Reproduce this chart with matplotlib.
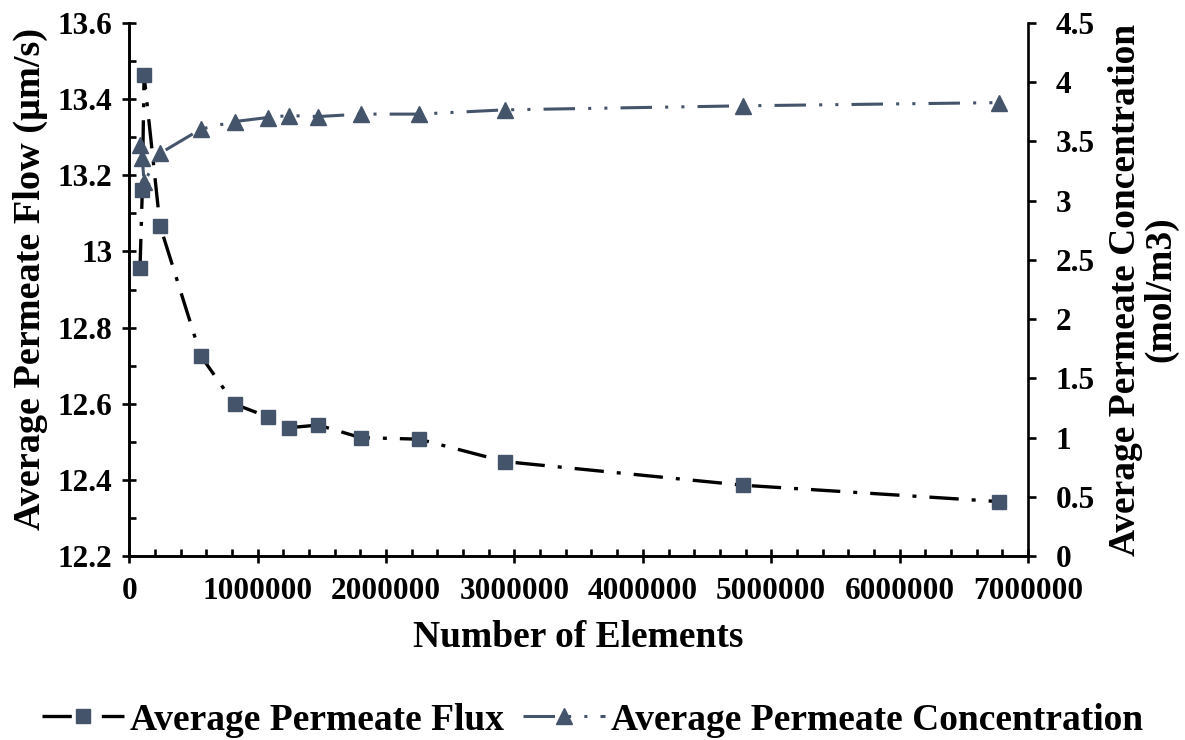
import matplotlib
matplotlib.use("Agg")
import matplotlib.pyplot as plt
from matplotlib.ticker import MultipleLocator, FuncFormatter

# ── Data ──────────────────────────────────────────────────────────────────────
elements = [83500, 101500, 115000, 240000, 557000, 820000, 1077000, 1241000,
            1471000, 1803000, 2256000, 2927000, 4781000, 6776000]
flux = [12.956, 13.161, 13.463, 13.067, 12.726, 12.599, 12.566, 12.537,
        12.544, 12.511, 12.507, 12.448, 12.386, 12.343]
conc = [3.47, 3.36, 3.156, 3.40, 3.604, 3.668, 3.702, 3.719,
        3.710, 3.731, 3.731, 3.767, 3.801, 3.828]

flux_label = "Average Permeate Flux"
conc_label = "Average Permeate Concentration"

# ── Style ─────────────────────────────────────────────────────────────────────
plt.rcParams["font.family"] = ["Liberation Serif", "DejaVu Serif"]
plt.rcParams["font.weight"] = "bold"
MARK = "#44546A"
TICK_FS = 22.5
LABEL_FS = 27

fig = plt.figure(figsize=(11.85, 7.40), dpi=100)
ax = fig.add_axes([0.1091, 0.2486, 0.8675 - 0.1091, 0.9689 - 0.2486])
ax2 = ax.twinx()

ax.plot(elements, flux, color="black", lw=2.4,
        linestyle=(0, (8.8, 3.9, 1.2, 3.9)),
        marker="s", ms=10.3, mfc=MARK, mec=MARK, label=flux_label)
ax2.plot(elements, conc, color=MARK, lw=2.2,
         linestyle=(0, (10.3, 4.3, 1.0, 4.3, 1.0, 4.3)),
         marker="^", ms=11, mfc=MARK, mec=MARK, label=conc_label)

ax.set_xlim(0, 7000000)
ax.set_ylim(12.2, 13.6)
ax2.set_ylim(0, 4.5)

ax.xaxis.set_major_locator(MultipleLocator(1000000))
ax.xaxis.set_minor_locator(MultipleLocator(200000))
ax.yaxis.set_major_locator(MultipleLocator(0.2))
ax.yaxis.set_minor_locator(MultipleLocator(0.1))
ax2.yaxis.set_major_locator(MultipleLocator(0.5))

gfmt = FuncFormatter(lambda v, p: f"{round(v, 3):g}")
ax.yaxis.set_major_formatter(gfmt)
ax2.yaxis.set_major_formatter(gfmt)
ax.xaxis.set_major_formatter(FuncFormatter(lambda v, p: f"{v:.0f}"))

for a in (ax, ax2):
    a.spines["top"].set_visible(False)
    for s in a.spines.values():
        s.set_linewidth(1.9)

ax.spines["right"].set_visible(False)
ax.tick_params(axis="both", which="major", direction="inout", length=10,
               width=1.9, labelsize=TICK_FS)
ax.tick_params(axis="both", which="minor", direction="in", length=5, width=1.9)
ax.tick_params(axis="x", which="major", pad=10)
ax.tick_params(axis="y", which="major", pad=7)
ax2.tick_params(axis="y", which="major", direction="out", length=6, width=1.9,
                labelsize=TICK_FS, pad=14)

ax.set_xlabel("Number of Elements", fontsize=LABEL_FS, fontweight="bold", va="center")
ax.xaxis.set_label_coords(0.5, (556 - 637) / 533)
ax.set_ylabel("Average Permeate Flow (µm/s)", fontsize=27.5,
              fontweight="bold", va="center")
ax.yaxis.set_label_coords((30 - 129.3) / 898.7, 0.52)
ax2.set_ylabel("Average Permeate Concentration\n(mol/m3)", fontsize=LABEL_FS,
               fontweight="bold", va="center", linespacing=1.0)
ax2.yaxis.set_label_coords((1143 - 129.3) / 898.7, 0.5)

h1, l1 = ax.get_legend_handles_labels()
h2, l2 = ax2.get_legend_handles_labels()
fig.legend(h1 + h2, l1 + l2, loc="center", bbox_to_anchor=(0.5, 1 - 720 / 740),
           ncol=2, frameon=False, fontsize=LABEL_FS, handlelength=2.2,
           handletextpad=0.15, columnspacing=0.5, numpoints=1)

fig.savefig("out.png", dpi=100)
